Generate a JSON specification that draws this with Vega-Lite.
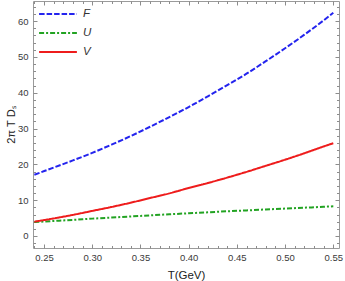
{
  "$schema": "https://vega.github.io/schema/vega-lite/v6.json",
  "autosize": {"type": "none"},
  "padding": {"left": 33, "top": 1, "right": 6, "bottom": 33},
  "width": 306,
  "height": 247,
  "config": {
    "view": {"stroke": "#9a9a9a", "strokeWidth": 1},
    "font": "Liberation Sans",
    "axis": {"grid": false, "domain": false, "ticks": true, "tickColor": "#8c8c8c", "tickWidth": 1, "labelColor": "#3a3a3a", "labelFontSize": 9.5, "titleColor": "#222222", "titleFontWeight": "normal", "titleFontSize": 11.5}
  },
  "data": {"values": [
    {"T": 0.24, "s": "F", "v": 17.1}, {"T": 0.26, "s": "F", "v": 19.1}, {"T": 0.28, "s": "F", "v": 21.1}, {"T": 0.30, "s": "F", "v": 23.2}, {"T": 0.32, "s": "F", "v": 25.5}, {"T": 0.34, "s": "F", "v": 27.9}, {"T": 0.36, "s": "F", "v": 30.5}, {"T": 0.38, "s": "F", "v": 33.2}, {"T": 0.40, "s": "F", "v": 36.0}, {"T": 0.42, "s": "F", "v": 39.0}, {"T": 0.44, "s": "F", "v": 42.1}, {"T": 0.46, "s": "F", "v": 45.3}, {"T": 0.48, "s": "F", "v": 48.8}, {"T": 0.50, "s": "F", "v": 52.4}, {"T": 0.52, "s": "F", "v": 56.2}, {"T": 0.54, "s": "F", "v": 60.2}, {"T": 0.55, "s": "F", "v": 62.3},
    {"T": 0.24, "s": "U", "v": 3.9}, {"T": 0.26, "s": "U", "v": 4.2}, {"T": 0.28, "s": "U", "v": 4.5}, {"T": 0.30, "s": "U", "v": 4.85}, {"T": 0.32, "s": "U", "v": 5.15}, {"T": 0.34, "s": "U", "v": 5.45}, {"T": 0.36, "s": "U", "v": 5.75}, {"T": 0.38, "s": "U", "v": 6.05}, {"T": 0.40, "s": "U", "v": 6.35}, {"T": 0.42, "s": "U", "v": 6.6}, {"T": 0.44, "s": "U", "v": 6.9}, {"T": 0.46, "s": "U", "v": 7.15}, {"T": 0.48, "s": "U", "v": 7.4}, {"T": 0.50, "s": "U", "v": 7.65}, {"T": 0.52, "s": "U", "v": 7.9}, {"T": 0.54, "s": "U", "v": 8.15}, {"T": 0.55, "s": "U", "v": 8.3},
    {"T": 0.24, "s": "V", "v": 4.0}, {"T": 0.26, "s": "V", "v": 4.9}, {"T": 0.28, "s": "V", "v": 5.9}, {"T": 0.30, "s": "V", "v": 7.0}, {"T": 0.32, "s": "V", "v": 8.1}, {"T": 0.34, "s": "V", "v": 9.3}, {"T": 0.36, "s": "V", "v": 10.6}, {"T": 0.38, "s": "V", "v": 11.9}, {"T": 0.40, "s": "V", "v": 13.4}, {"T": 0.42, "s": "V", "v": 14.8}, {"T": 0.44, "s": "V", "v": 16.3}, {"T": 0.46, "s": "V", "v": 17.9}, {"T": 0.48, "s": "V", "v": 19.6}, {"T": 0.50, "s": "V", "v": 21.3}, {"T": 0.52, "s": "V", "v": 23.1}, {"T": 0.54, "s": "V", "v": 25.0}, {"T": 0.55, "s": "V", "v": 25.9}
  ]},
  "resolve": {"axis": {"x": "independent", "y": "independent"}},
  "layer": [
    {
      "mark": {"type": "line", "strokeWidth": 2, "interpolate": "monotone", "clip": true},
      "encoding": {
        "x": {"field": "T", "type": "quantitative", "scale": {"domain": [0.2386, 0.5559], "nice": false, "zero": false},
              "axis": {"orient": "bottom", "values": [0.25, 0.30, 0.35, 0.40, 0.45, 0.50, 0.55], "format": ".2f", "offset": -4, "tickSize": 4, "labelPadding": 4, "title": "T(GeV)", "titlePadding": 8}},
        "y": {"field": "v", "type": "quantitative", "scale": {"domain": [-3.35, 65.6], "nice": false, "zero": false},
              "axis": {"orient": "left", "values": [0, 10, 20, 30, 40, 50, 60], "offset": -4, "tickSize": 4, "labelPadding": 5, "title": "2π T Dₛ", "titlePadding": 1, "titleFontSize": 11}},
        "color": {"field": "s", "type": "nominal", "scale": {"domain": ["F", "U", "V"], "range": ["#2424ee", "#22a322", "#ee1c1c"]},
                  "legend": {"orient": "none", "legendX": 15, "legendY": 3, "title": null, "symbolType": "M-2.1,0L2.1,0", "symbolSize": 324, "symbolStrokeWidth": 2, "symbolFillColor": "transparent", "labelFontStyle": "italic", "labelFontSize": 11.5, "labelColor": "#333333", "rowPadding": 3, "labelOffset": 15}},
        "strokeDash": {"field": "s", "type": "nominal", "scale": {"domain": ["F", "U", "V"], "range": [[5.5, 2], [5, 2, 2, 2], [1, 0]]}, "legend": {"orient": "none", "legendX": 15, "legendY": 3, "title": null, "symbolType": "M-2.1,0L2.1,0", "symbolSize": 324, "symbolStrokeWidth": 2, "symbolFillColor": "transparent", "labelFontStyle": "italic", "labelFontSize": 11.5, "labelColor": "#333333", "rowPadding": 3, "labelOffset": 15}}
      }
    },
    {
      "mark": {"type": "line", "opacity": 0},
      "encoding": {
        "x": {"field": "T", "type": "quantitative", "axis": {"orient": "bottom", "values": [0.24, 0.26, 0.27, 0.28, 0.29, 0.31, 0.32, 0.33, 0.34, 0.36, 0.37, 0.38, 0.39, 0.41, 0.42, 0.43, 0.44, 0.46, 0.47, 0.48, 0.49, 0.51, 0.52, 0.53, 0.54], "labels": false, "offset": -2.5, "tickSize": 2.5, "title": null}},
        "y": {"field": "v", "type": "quantitative", "axis": {"orient": "left", "values": [-2, 2, 4, 6, 8, 12, 14, 16, 18, 22, 24, 26, 28, 32, 34, 36, 38, 42, 44, 46, 48, 52, 54, 56, 58, 62, 64], "labels": false, "offset": -2.5, "tickSize": 2.5, "title": null}},
        "detail": {"field": "s"}
      }
    },
    {
      "mark": {"type": "line", "opacity": 0},
      "encoding": {
        "x": {"field": "T", "type": "quantitative", "axis": {"orient": "top", "values": [0.25, 0.30, 0.35, 0.40, 0.45, 0.50, 0.55], "labels": false, "offset": -4, "tickSize": 4, "title": null}},
        "y": {"field": "v", "type": "quantitative", "axis": {"orient": "right", "values": [0, 10, 20, 30, 40, 50, 60], "labels": false, "offset": -4, "tickSize": 4, "title": null}},
        "detail": {"field": "s"}
      }
    },
    {
      "mark": {"type": "line", "opacity": 0},
      "encoding": {
        "x": {"field": "T", "type": "quantitative", "axis": {"orient": "top", "values": [0.24, 0.26, 0.27, 0.28, 0.29, 0.31, 0.32, 0.33, 0.34, 0.36, 0.37, 0.38, 0.39, 0.41, 0.42, 0.43, 0.44, 0.46, 0.47, 0.48, 0.49, 0.51, 0.52, 0.53, 0.54], "labels": false, "offset": -2.5, "tickSize": 2.5, "title": null}},
        "y": {"field": "v", "type": "quantitative", "axis": {"orient": "right", "values": [-2, 2, 4, 6, 8, 12, 14, 16, 18, 22, 24, 26, 28, 32, 34, 36, 38, 42, 44, 46, 48, 52, 54, 56, 58, 62, 64], "labels": false, "offset": -2.5, "tickSize": 2.5, "title": null}},
        "detail": {"field": "s"}
      }
    }
  ]
}
